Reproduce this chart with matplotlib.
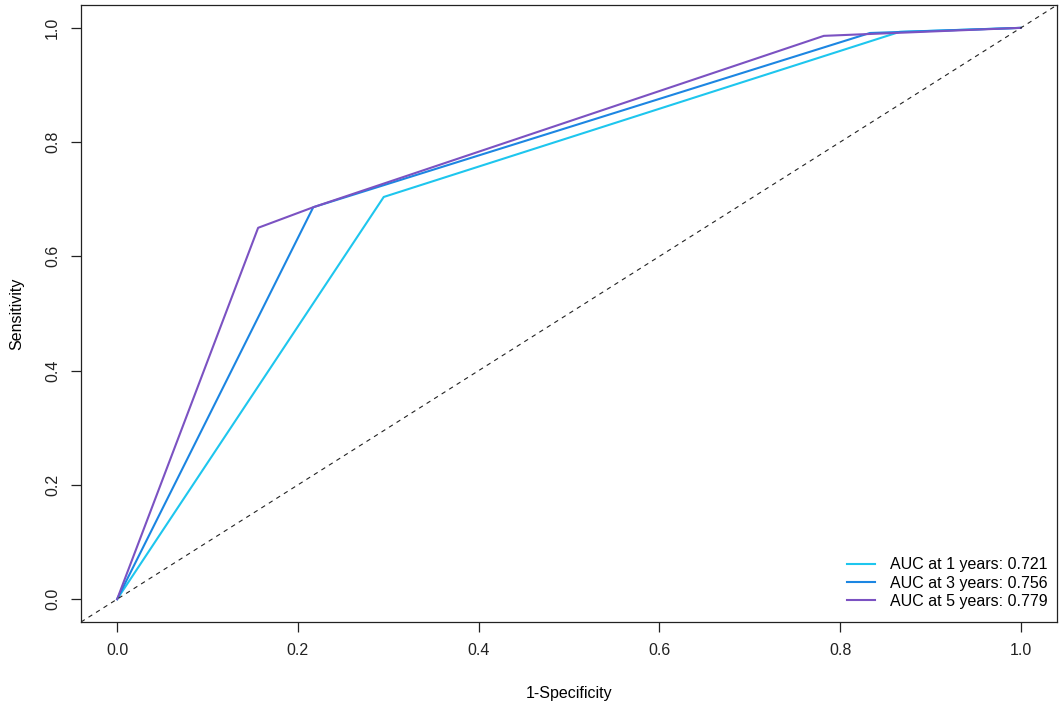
import matplotlib
matplotlib.use("Agg")
import matplotlib.pyplot as plt

plt.rcParams['font.family'] = ['Liberation Sans', 'DejaVu Sans']

# ROC curve data (1-Specificity, Sensitivity)
fpr_1y = [0.0, 0.295, 0.866, 1.0]
tpr_1y = [0.0, 0.704, 0.993, 1.0]
fpr_3y = [0.0, 0.217, 0.833, 1.0]
tpr_3y = [0.0, 0.686, 0.991, 1.0]
fpr_5y = [0.0, 0.156, 0.217, 0.782, 1.0]
tpr_5y = [0.0, 0.650, 0.686, 0.986, 1.0]

labels = ["AUC at 1 years: 0.721", "AUC at 3 years: 0.756", "AUC at 5 years: 0.779"]
colors = ["#1EC6EE", "#1C86E2", "#7B52C2"]
ticks = [0.0, 0.2, 0.4, 0.6, 0.8, 1.0]
tick_labels = ["0.0", "0.2", "0.4", "0.6", "0.8", "1.0"]

fig = plt.figure(figsize=(10.63, 7.06), dpi=100)
ax = fig.add_axes([81/1063, 1-622/706, (1057-81)/1063, (622-5)/706])

ax.plot(fpr_1y, tpr_1y, color=colors[0], lw=1.5, label=labels[0])
ax.plot(fpr_3y, tpr_3y, color=colors[1], lw=1.5, label=labels[1])
ax.plot(fpr_5y, tpr_5y, color=colors[2], lw=1.5, label=labels[2])
ax.plot([-0.04, 1.04], [-0.04, 1.04], color="#222222", lw=0.8, linestyle=(0, (4, 4)))

ax.set_xlim(-0.04, 1.04)
ax.set_ylim(-0.04, 1.04)
ax.set_xticks(ticks)
ax.set_xticklabels(tick_labels)
ax.set_yticks(ticks)
ax.set_yticklabels(tick_labels, rotation=90, va="center")
ax.tick_params(direction="out", length=7, width=0.9, labelsize=11.5, colors="#222222", pad=8)
for s in ax.spines.values():
    s.set_linewidth(0.9)
    s.set_color("#222222")

ax.set_xlabel("1-Specificity", fontsize=11.5, labelpad=20)
ax.set_ylabel("Sensitivity", fontsize=11.5, labelpad=15)

leg = ax.legend(loc="lower right", bbox_to_anchor=(1.0, 0.006), frameon=False, fontsize=11.5,
                handlelength=1.75, handletextpad=0.95, labelspacing=0.2, borderaxespad=0.2)

fig.savefig("out.png", dpi=100)
